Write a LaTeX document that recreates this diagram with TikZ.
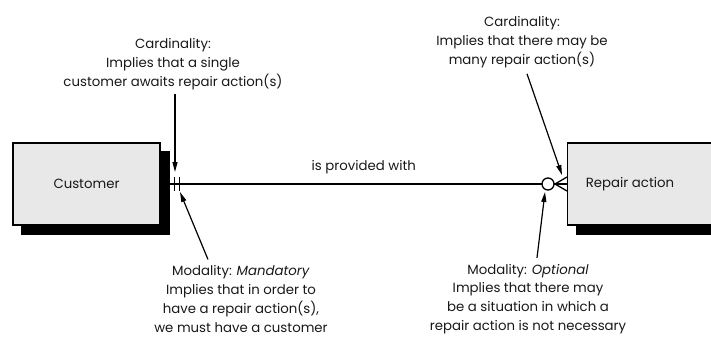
\documentclass[tikz,border=0pt]{standalone}
\usepackage{fontspec}
\setmainfont{Poppins}
\usetikzlibrary{arrows.meta,shadows}
\begin{document}
\begin{tikzpicture}[x=1pt,y=-1pt,
  entity/.style={draw=black, line width=1.4pt, fill=black!9, minimum height=82pt, inner sep=0pt,
    copy shadow={shadow xshift=9pt, shadow yshift=-9pt, fill=black, draw=black}},
  txt/.style={font=\fontsize{13.3}{18.8}\selectfont, text=black!90, inner sep=0pt},
  note/.style={txt, align=center},
  pointer/.style={line width=1.2pt, -{Triangle[length=10pt,width=5pt]}},
  link/.style={line width=1.5pt},
  notation/.style={line width=1.3pt}]
\useasboundingbox (0,0) rectangle (711,342);
\clip (0,0) rectangle (711,342);
\fill[white] (0,0) rectangle (711,342);

% entities
\node[entity, minimum width=147pt] (cust) at (86.5,184) {};
\node[txt] (custlabel) at (86.5,184) {Customer};
\node[entity, minimum width=200pt, anchor=west] (rep) at (567,184) {};
\node[txt] (replabel) at (630,184) {Repair action};

% relationship
\draw[link] (cust.east) -- node[txt, above=9pt] (rel) {is provided with} (rep.west);

% one-and-only-one end
\draw[notation] ([xshift=14pt]cust.east) +(0,-7) -- +(0,7);
\draw[notation] ([xshift=19pt]cust.east) +(0,-7) -- +(0,7);
% zero-or-many end
\draw[notation, fill=white] ([xshift=-19pt]rep.west) circle[radius=6pt];
\draw[notation] ([xshift=-12pt]rep.west) -- ([yshift=7pt]rep.west);
\draw[notation] ([xshift=-12pt]rep.west) -- ([yshift=-7pt]rep.west);

% annotations
\node[note] (tl) at (173,64) {Cardinality:\\Implies that a single\\customer awaits repair action(s)};
\node[note] (tr) at (522,42) {Cardinality:\\Implies that there may be\\many repair action(s)};
\node[note] (bl) at (241,299) {Modality: \emph{Mandatory}\\Implies that in order to\\have a repair action(s),\\we must have a customer};
\node[note] (br) at (528,299) {Modality: \emph{Optional}\\Implies that there may\\be a situation in which a\\repair action is not necessary};

\coordinate (onetip) at (175,172);
\coordinate (manytip) at (562,175);
\coordinate (mandtip) at (180,192);
\coordinate (opttip) at (545,192);

\draw[pointer] (tl.south -| onetip) ++(0,4) -- (onetip);
\draw[pointer] ([xshift=5pt,yshift=-6pt]tr.south) -- (manytip);
\draw[pointer] ([xshift=-33pt,yshift=6pt]bl.north) -- (mandtip);
\draw[pointer] ([xshift=9pt,yshift=6pt]br.north) -- (opttip);
\end{tikzpicture}
\end{document}
